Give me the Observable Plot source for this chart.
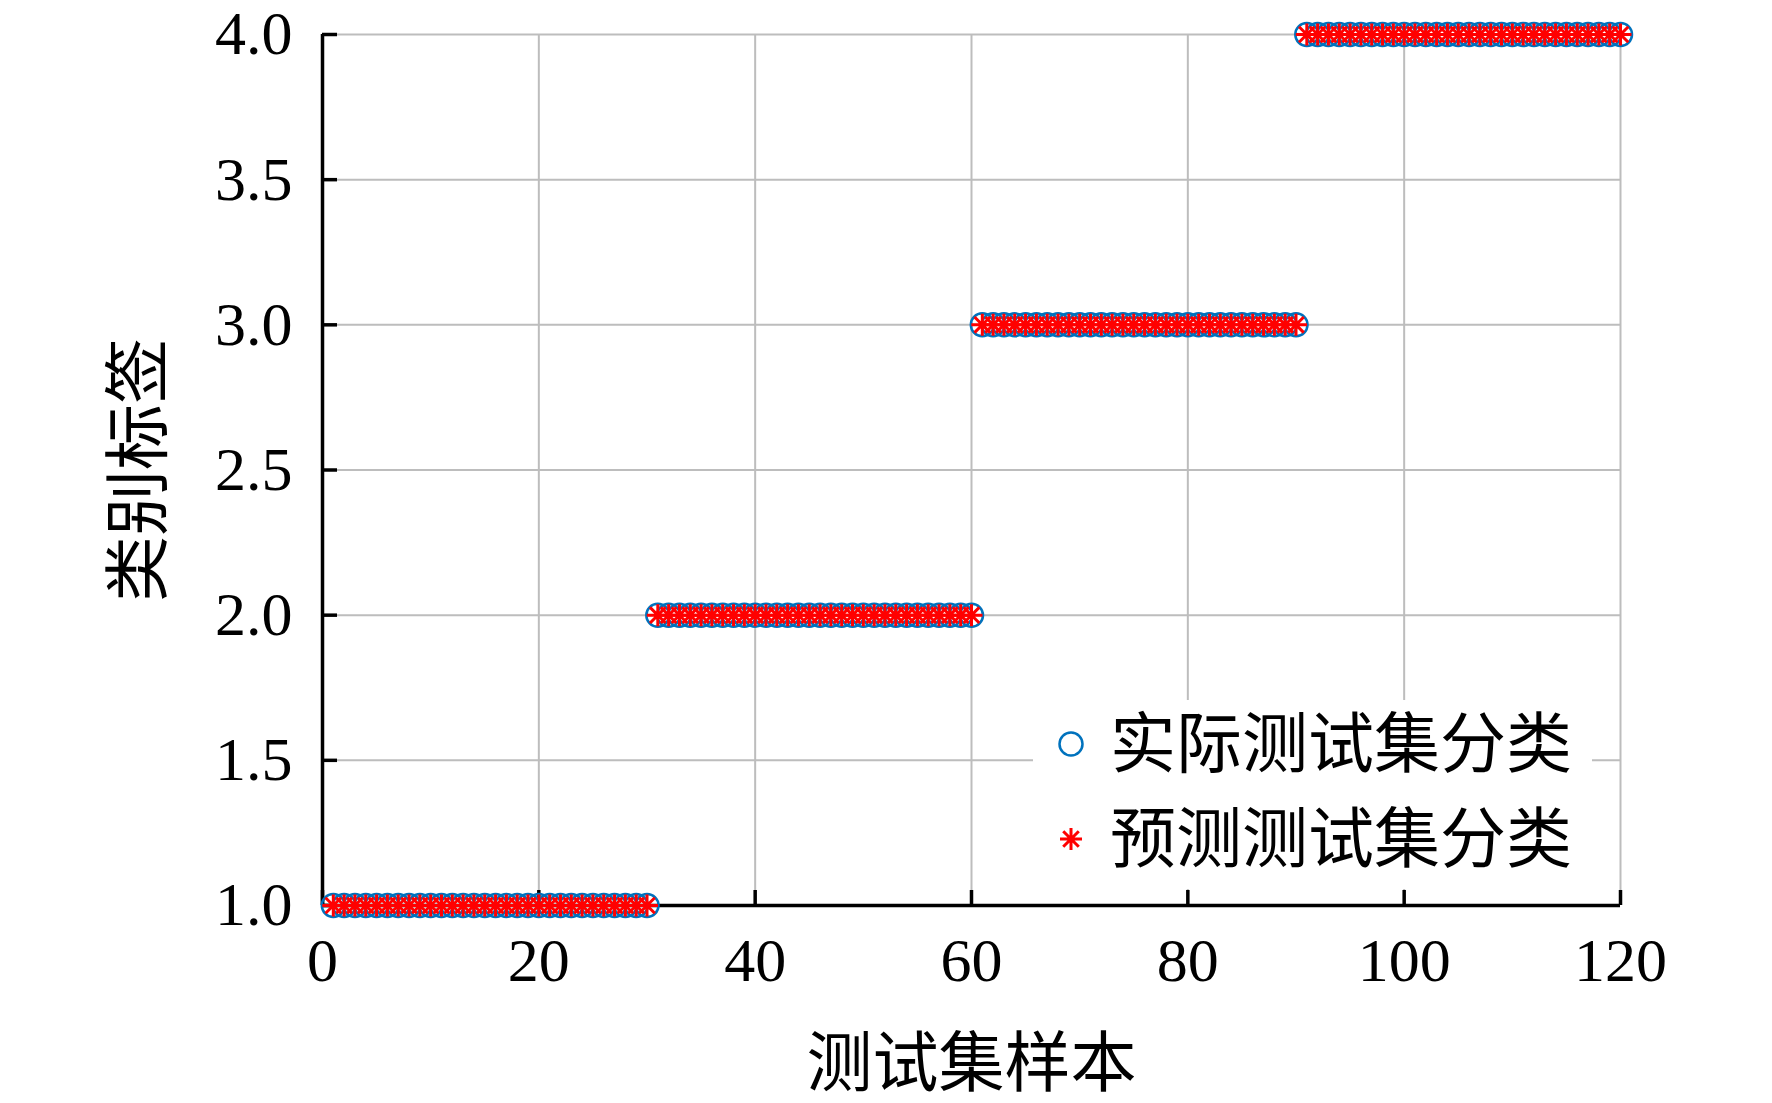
<!DOCTYPE html>
<html><head><meta charset="utf-8">
<script src="https://cdn.jsdelivr.net/npm/d3@7"></script>
<script src="https://cdn.jsdelivr.net/npm/@observablehq/plot@0.6"></script>
<style>
html,body{margin:0;padding:0;background:#fff;}
#wrap{position:relative;width:1772px;height:1103px;}
#legend{position:absolute;left:1033px;top:700px;}
</style></head><body><div id="wrap"></div>
<script>
const actualClass = [
  1,1,1,1,1,1,1,1,1,1,1,1,1,1,1,1,1,1,1,1,1,1,1,1,1,1,1,1,1,1,
  2,2,2,2,2,2,2,2,2,2,2,2,2,2,2,2,2,2,2,2,2,2,2,2,2,2,2,2,2,2,
  3,3,3,3,3,3,3,3,3,3,3,3,3,3,3,3,3,3,3,3,3,3,3,3,3,3,3,3,3,3,
  4,4,4,4,4,4,4,4,4,4,4,4,4,4,4,4,4,4,4,4,4,4,4,4,4,4,4,4,4,4
];
const predictedClass = [
  1,1,1,1,1,1,1,1,1,1,1,1,1,1,1,1,1,1,1,1,1,1,1,1,1,1,1,1,1,1,
  2,2,2,2,2,2,2,2,2,2,2,2,2,2,2,2,2,2,2,2,2,2,2,2,2,2,2,2,2,2,
  3,3,3,3,3,3,3,3,3,3,3,3,3,3,3,3,3,3,3,3,3,3,3,3,3,3,3,3,3,3,
  4,4,4,4,4,4,4,4,4,4,4,4,4,4,4,4,4,4,4,4,4,4,4,4,4,4,4,4,4,4
];
const xTicks = [0, 20, 40, 60, 80, 100, 120];
const yTicks = [1.0, 1.5, 2.0, 2.5, 3.0, 3.5, 4.0];
const seriesNames = ["实际测试集分类", "预测测试集分类"];
const xLabel = "测试集样本";
const yLabel = "类别标签";

const actual = actualClass.map((c, i) => ({sample: i + 1, label: c}));
const predicted = predictedClass.map((c, i) => ({sample: i + 1, label: c}));

const asterisk8 = {
  draw(ctx, size) {
    const r = Math.sqrt(size / Math.PI);
    for (const a of [0, 45, 90, 135]) {
      const t = a * Math.PI / 180, dx = r * Math.cos(t), dy = r * Math.sin(t);
      ctx.moveTo(-dx, -dy); ctx.lineTo(dx, dy);
    }
  }
};

const font = '"Liberation Serif", "Times New Roman", "Noto Sans CJK SC", serif';
const gridColor = "#bdbdbd";
const blue = "#0072BD", red = "#FF0000";

const chart = Plot.plot({
  width: 1772, height: 1103,
  marginLeft: 322, marginRight: 152, marginTop: 34, marginBottom: 198,
  style: {fontFamily: font, fontSize: "62px", color: "#000", background: "#fff", overflow: "visible"},
  x: {domain: [0, 120]},
  y: {domain: [1, 4]},
  marks: [
    Plot.gridX(xTicks, {stroke: gridColor, strokeOpacity: 1, strokeWidth: 2}),
    Plot.gridY(yTicks, {stroke: gridColor, strokeOpacity: 1, strokeWidth: 2}),
    Plot.axisX(xTicks, {tickSize: -15, tickPadding: 46, strokeWidth: 3.5, stroke: "#000", fill: "#000",
      label: xLabel, labelAnchor: "center", labelOffset: 180, labelArrow: "none"}),
    Plot.axisY(yTicks, {tickSize: -15, tickPadding: 45, strokeWidth: 3.5, stroke: "#000", fill: "#000",
      tickFormat: d3.format(".1f"), label: yLabel, labelAnchor: "center", labelOffset: 208, labelArrow: "none"}),
    Plot.ruleX([0], {stroke: "#000", strokeWidth: 3.5}),
    Plot.ruleY([1], {stroke: "#000", strokeWidth: 3.5}),
    Plot.dot(actual, {x: "sample", y: "label", r: 11.5, stroke: blue, strokeWidth: 2.5, fill: "none"}),
    Plot.dot(predicted, {x: "sample", y: "label", r: 11, symbol: asterisk8, stroke: red, strokeWidth: 3})
  ]
});

d3.select(chart).selectAll('[aria-label="x-axis label"], [aria-label="y-axis label"]').attr("font-size", 66);

const wrap = document.getElementById("wrap");
wrap.appendChild(chart);

// legend
const lw = 559, lh = 189;
const leg = d3.create("svg").attr("id", "legend").attr("width", lw).attr("height", lh);
leg.append("rect").attr("width", lw).attr("height", lh).attr("fill", "#fff");
const rows = [
  {name: seriesNames[0], symbol: d3.symbolCircle, color: blue, r: 11.5, sw: 2.5, cy: 44},
  {name: seriesNames[1], symbol: asterisk8, color: red, r: 11, sw: 3, cy: 139}
];
for (const row of rows) {
  leg.append("path")
    .attr("d", d3.symbol(row.symbol, Math.PI * row.r * row.r)())
    .attr("transform", `translate(38,${row.cy})`)
    .attr("fill", "none").attr("stroke", row.color).attr("stroke-width", row.sw);
  leg.append("text").attr("x", 77).attr("y", row.cy)
    .attr("dominant-baseline", "central")
    .attr("font-family", font).attr("font-size", 66).attr("fill", "#000")
    .text(row.name);
}
wrap.appendChild(leg.node());
</script></body></html>
